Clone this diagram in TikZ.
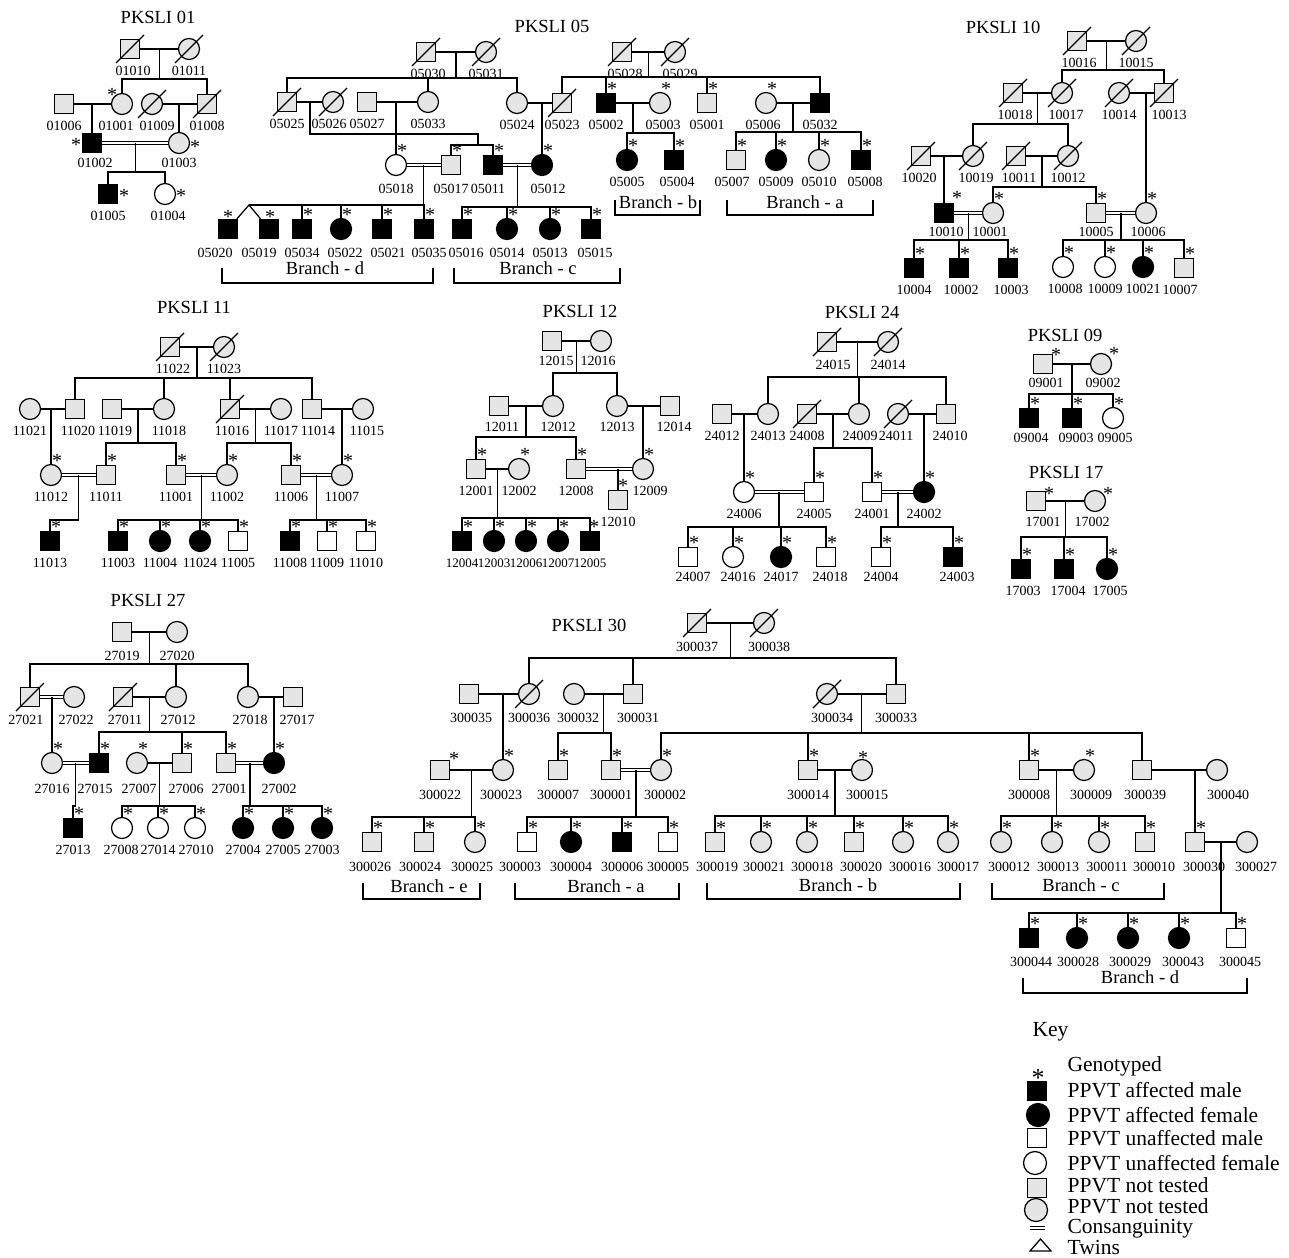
\documentclass[tikz,border=0pt]{standalone}
\usepackage{fontspec}
\setmainfont{Liberation Serif}
\usepackage{tikz}
\usetikzlibrary{calc}
\definecolor{nt}{gray}{0.9}
\newcommand\pn[4][]{\node[#2] (p#3) at (#4) {};
  \node[lb,#1] (t#3) at ([yshift=-22pt]p#3.center) {#3};}
\newcommand\gtp[2][6,-14]{\node[ast] (s#2) at ([shift={(#1)}]p#2.center) {*};}
\newcommand\gts[1]{\foreach \q in {#1} {\gtp{\q}}}
\newcommand\mate[2]{\draw (p#1) -- (p#2);}
\newcommand\cmate[2]{\draw[cs] (p#1) -- (p#2);}
\newcommand\kids[4]{\path ($(p#1)!.5!(p#2)$) coordinate (j) ++(0,#3) coordinate (k);
  \draw (j) -- (k);
  \foreach \ch in {#4} {\draw (k) -| (p\ch);}}
\newcommand\dead[1]{\foreach \q in {#1} {\draw ([shift={(-14,14)}]p\q.center) -- ([shift={(14,-14)}]p\q.center);}}
\newcommand\brk[4]{\draw (#1,#3) -- (#1,#4) -- (#2,#4) -- (#2,#3);}
\begin{document}
\begin{tikzpicture}[x=1pt,y=-1pt,line width=1.25pt,
  sym/.style={draw,inner sep=0pt},
  sq/.style={sym,rectangle,minimum size=19pt,fill=nt},
  ci/.style={sym,circle,minimum size=21pt,fill=nt},
  am/.style={sq,fill=black},
  af/.style={ci,fill=black},
  um/.style={sq,fill=white},
  uf/.style={ci,fill=white},
  cs/.style={double,double distance=1.6pt},
  lb/.style={font=\fontsize{14}{15}\selectfont,inner sep=0pt},
  ast/.style={font=\fontsize{20}{20}\selectfont,inner sep=0pt},
  ttl/.style={font=\fontsize{18.5}{20}\selectfont,inner sep=0pt},
  kt/.style={font=\fontsize{21.5}{22}\selectfont,inner sep=0pt,anchor=base west}]
\useasboundingbox (0,0) rectangle (1289,1257);

\node[ttl] (h01) at (158,17) {PKSLI 01};
\pn[xshift=3]{sq}{01010}{130,49}
\pn{ci}{01011}{189,49}
\pn{sq}{01006}{64,104}
\pn[xshift=-6]{ci}{01001}{122,104}
\pn[xshift=5]{ci}{01009}{152,104}
\pn{sq}{01008}{207,104}
\pn[xshift=3,yshift=2]{am}{01002}{92,143}
\pn[yshift=2]{ci}{01003}{179,143}
\pn{am}{01005}{108,194}
\pn[xshift=3]{uf}{01004}{165,194}
\mate{01010}{01011} \kids{01010}{01011}{30}{01001,01008}
\mate{01006}{01001} \kids{01006}{01001}{0}{01002}
\mate{01009}{01008} \kids{01009}{01008}{0}{01003}
\cmate{01002}{01003} \kids{01002}{01003}{29}{01005,01004}
\dead{01010,01011,01009,01008}
\gtp[-10,-9]{01001} \gtp[-16,2]{01002} \gtp[16,4]{01003} \gtp[16,2]{01005} \gtp[16,2]{01004}

\node[ttl] (h05) at (552,26) {PKSLI 05};
\pn[xshift=2]{sq}{05030}{426,52}
\pn{ci}{05031}{486,52}
\pn{sq}{05025}{287,102}
\pn[xshift=-4]{ci}{05026}{333,102}
\pn{sq}{05027}{367,102}
\pn{ci}{05033}{428,102}
\pn{ci}{05024}{517,103}
\pn{sq}{05023}{562,103}
\pn[yshift=-2]{uf}{05018}{396,165}
\pn[yshift=-2]{sq}{05017}{451,165}
\pn[xshift=-5,yshift=-2]{am}{05011}{493,165}
\pn[xshift=6,yshift=-2]{af}{05012}{542,165}
\pn[xshift=-13,yshift=-2]{am}{05020}{228,229}
\pn[xshift=-10,yshift=-2]{am}{05019}{269,229}
\pn[yshift=-2]{am}{05034}{302,229}
\pn[xshift=4,yshift=-2]{af}{05022}{341,229}
\pn[xshift=6,yshift=-2]{am}{05021}{382,229}
\pn[xshift=5,yshift=-2]{am}{05035}{424,229}
\pn[xshift=4,yshift=-2]{am}{05016}{462,229}
\pn[yshift=-2]{af}{05014}{507,229}
\pn[yshift=-2]{af}{05013}{550,229}
\pn[xshift=4,yshift=-2]{am}{05015}{591,229}
\pn[xshift=3]{sq}{05028}{622,52}
\pn[xshift=5]{ci}{05029}{675,52}
\pn{am}{05002}{606,103}
\pn[xshift=3]{ci}{05003}{660,103}
\pn{sq}{05001}{707,103}
\pn[xshift=-3]{ci}{05006}{766,103}
\pn{am}{05032}{820,103}
\pn{af}{05005}{627,160}
\pn[xshift=3]{am}{05004}{674,160}
\pn[xshift=-4]{sq}{05007}{736,160}
\pn{af}{05009}{776,160}
\pn{ci}{05010}{819,160}
\pn[xshift=4]{am}{05008}{861,160}
\mate{05030}{05031} \kids{05030}{05031}{26}{05025,05033,05024}
\mate{05025}{05026}
\path ($(p05025)!.5!(p05026)$) coordinate (j);
\coordinate (e1) at (478,134);
\coordinate (e2) at (478,145);
\draw (j) |- (e1) -- (e2);
\foreach \ch in {05017,05011} {\draw (e2) -| (p\ch);}
\mate{05027}{05033} \kids{05027}{05033}{0}{05018}
\mate{05024}{05023} \kids{05024}{05023}{0}{05012}
\cmate{05018}{05017} \kids{05018}{05017}{40}{05034,05022,05021,05035}
\coordinate (tw) at (249,205);
\draw (tw) -- (k);
\draw (p05020) -- (tw) -- (p05019);
\cmate{05011}{05012} \kids{05011}{05012}{42}{05016,05014,05013,05015}
\mate{05028}{05029} \kids{05028}{05029}{25}{05023,05002,05001,05032}
\mate{05002}{05003} \kids{05002}{05003}{30}{05005,05004}
\mate{05006}{05032} \kids{05006}{05032}{29}{05007,05009,05010,05008}
\dead{05030,05031,05025,05026,05023,05028,05029}
\gts{05018,05017,05011,05012,05034,05022,05021,05035,05016,05014,05013,05015,05002,05003,05001,05006,05005,05004,05007,05009,05010,05008}
\gtp[0,-12]{05020} \gtp[1,-12]{05019}
\brk{222}{433}{268}{283} \node[ttl] (bd05) at (325,268) {Branch - d};
\brk{454}{620}{268}{283} \node[ttl] (bc05) at (538,268) {Branch - c};
\brk{615}{700}{200}{215} \node[ttl] (bb05) at (658,202) {Branch - b};
\brk{727}{873}{200}{215} \node[ttl] (ba05) at (805,202) {Branch - a};

\node[ttl] (h10) at (1003,27) {PKSLI 10};
\pn[xshift=2]{sq}{10016}{1077,41}
\pn{ci}{10015}{1136,41}
\pn[xshift=2]{sq}{10018}{1013,93}
\pn[xshift=4]{ci}{10017}{1062,93}
\pn{ci}{10014}{1119,93}
\pn[xshift=5]{sq}{10013}{1164,93}
\pn[xshift=-2]{sq}{10020}{921,156}
\pn[xshift=3]{ci}{10019}{973,156}
\pn[xshift=3]{sq}{10011}{1016,156}
\pn{ci}{10012}{1068,156}
\pn[xshift=2,yshift=3]{am}{10010}{944,213}
\pn[xshift=-3,yshift=3]{ci}{10001}{993,213}
\pn[yshift=3]{sq}{10005}{1096,213}
\pn[xshift=2,yshift=3]{ci}{10006}{1146,213}
\pn{am}{10004}{914,268}
\pn[xshift=2]{am}{10002}{959,268}
\pn[xshift=3]{am}{10003}{1008,268}
\pn[xshift=2]{uf}{10008}{1063,267}
\pn{uf}{10009}{1105,267}
\pn{af}{10021}{1143,267}
\pn[xshift=-4]{sq}{10007}{1184,268}
\mate{10016}{10015} \kids{10016}{10015}{29}{10017,10013}
\mate{10018}{10017} \kids{10018}{10017}{31}{10019,10012}
\mate{10014}{10013} \kids{10014}{10013}{0}{10006}
\mate{10020}{10019} \kids{10020}{10019}{0}{10010}
\mate{10011}{10012} \kids{10011}{10012}{31}{10001,10005}
\cmate{10010}{10001} \kids{10010}{10001}{27}{10004,10002,10003}
\cmate{10005}{10006} \kids{10005}{10006}{27}{10008,10009,10021,10007}
\dead{10016,10015,10018,10017,10014,10013,10020,10019,10011,10012}
\gtp[13,-15]{10010}
\gts{10001,10005,10006,10004,10002,10003,10008,10009,10021,10007}

\node[ttl] (h11) at (194,307) {PKSLI 11};
\pn[xshift=3]{sq}{11022}{170,347}
\pn{ci}{11023}{224,347}
\pn{ci}{11021}{30,409}
\pn[xshift=3]{sq}{11020}{75,409}
\pn[xshift=3]{sq}{11019}{112,409}
\pn[xshift=5]{ci}{11018}{164,409}
\pn[xshift=2]{sq}{11016}{230,409}
\pn{ci}{11017}{281,409}
\pn[xshift=6]{sq}{11014}{312,409}
\pn[xshift=4]{ci}{11015}{363,409}
\pn{ci}{11012}{51,475}
\pn{sq}{11011}{106,475}
\pn{sq}{11001}{176,475}
\pn{ci}{11002}{227,475}
\pn{sq}{11006}{291,475}
\pn{ci}{11007}{342,475}
\pn{am}{11013}{50,541}
\pn{am}{11003}{118,541}
\pn{af}{11004}{160,541}
\pn{af}{11024}{200,541}
\pn{um}{11005}{238,541}
\pn{am}{11008}{290,541}
\pn{um}{11009}{327,541}
\pn{um}{11010}{366,541}
\mate{11022}{11023} \kids{11022}{11023}{31}{11020,11018,11016,11014}
\mate{11021}{11020} \kids{11021}{11020}{0}{11012}
\mate{11019}{11018} \kids{11019}{11018}{34}{11011,11001}
\mate{11016}{11017} \kids{11016}{11017}{34}{11002,11006}
\mate{11014}{11015} \kids{11014}{11015}{0}{11007}
\cmate{11012}{11011} \kids{11012}{11011}{45}{11013}
\cmate{11001}{11002} \kids{11001}{11002}{45}{11003,11004,11024,11005}
\cmate{11006}{11007} \kids{11006}{11007}{45}{11008,11009,11010}
\dead{11022,11023,11016}
\gts{11012,11011,11001,11002,11006,11007,11013,11003,11004,11024,11005,11008,11009,11010}

\node[ttl] (h12) at (580,311) {PKSLI 12};
\pn[xshift=4,yshift=2]{sq}{12015}{552,341}
\pn[xshift=-3,yshift=2]{ci}{12016}{601,341}
\pn[xshift=3,yshift=1]{sq}{12011}{499,406}
\pn[xshift=5,yshift=1]{ci}{12012}{553,406}
\pn[yshift=1]{ci}{12013}{617,406}
\pn[xshift=4,yshift=1]{sq}{12014}{670,406}
\pn{sq}{12001}{476,469}
\pn{ci}{12002}{519,469}
\pn{sq}{12008}{576,469}
\pn[xshift=7]{ci}{12009}{643,469}
\pn[font=\fontsize{13}{14}\selectfont]{am}{12004}{462,541}
\pn[font=\fontsize{13}{14}\selectfont]{af}{12003}{494,541}
\pn[font=\fontsize{13}{14}\selectfont]{af}{12006}{526,541}
\pn[font=\fontsize{13}{14}\selectfont]{af}{12007}{558,541}
\pn[font=\fontsize{13}{14}\selectfont]{am}{12005}{590,541}
\pn{sq}{12010}{618,500}
\mate{12015}{12016} \kids{12015}{12016}{32}{12012,12013}
\mate{12011}{12012} \kids{12011}{12012}{31}{12001,12008}
\mate{12013}{12014} \kids{12013}{12014}{0}{12009}
\mate{12001}{12002} \kids{12001}{12002}{49}{12004,12003,12006,12007,12005}
\cmate{12008}{12009}
\draw (p12010 |- p12008) -- (p12010);
\gts{12001,12002,12008,12009,12004,12003,12006,12007}
\gtp[4,-14]{12005} \gtp[5,-14]{12010}

\node[ttl] (h24) at (862,312) {PKSLI 24};
\pn[xshift=6,yshift=-1]{sq}{24015}{827,342}
\pn[yshift=-1]{ci}{24014}{888,342}
\pn{sq}{24012}{722,414}
\pn{ci}{24013}{768,414}
\pn{sq}{24008}{807,414}
\pn[xshift=1]{ci}{24009}{859,414}
\pn[xshift=-2]{ci}{24011}{898,414}
\pn[xshift=4]{sq}{24010}{946,414}
\pn{uf}{24006}{744,492}
\pn{um}{24005}{814,492}
\pn{um}{24001}{872,492}
\pn{af}{24002}{924,492}
\pn[xshift=5,yshift=2]{um}{24007}{688,557}
\pn[xshift=5,yshift=2]{uf}{24016}{733,557}
\pn[yshift=2]{af}{24017}{781,557}
\pn[xshift=4,yshift=2]{um}{24018}{826,557}
\pn[yshift=2]{um}{24004}{881,557}
\pn[xshift=4,yshift=2]{am}{24003}{953,557}
\mate{24015}{24014} \kids{24015}{24014}{35}{24013,24009,24010}
\mate{24012}{24013} \kids{24012}{24013}{0}{24006}
\mate{24008}{24009} \kids{24008}{24009}{34}{24005,24001}
\mate{24011}{24010} \kids{24011}{24010}{0}{24002}
\cmate{24006}{24005} \kids{24006}{24005}{35}{24007,24016,24017,24018}
\cmate{24001}{24002} \kids{24001}{24002}{35}{24004,24003}
\dead{24015,24014,24008,24011}
\gts{24006,24005,24001,24002,24007,24016,24017,24018,24004,24003}

\node[ttl] (h09) at (1065,335) {PKSLI 09};
\pn[xshift=3,yshift=3]{sq}{09001}{1043,364}
\pn[xshift=2,yshift=3]{ci}{09002}{1101,364}
\pn[xshift=2,yshift=2]{am}{09004}{1029,418}
\pn[xshift=4,yshift=2]{am}{09003}{1072,418}
\pn[xshift=2,yshift=2]{uf}{09005}{1113,418}
\mate{09001}{09002} \kids{09001}{09002}{30}{09004,09003,09005}
\gtp[13,-9]{09001} \gtp[13,-10]{09002}
\gts{09004,09003,09005}

\node[ttl] (h17) at (1066,472) {PKSLI 17};
\pn[xshift=7,yshift=1]{sq}{17001}{1036,501}
\pn[xshift=-3,yshift=1]{ci}{17002}{1095,501}
\pn[xshift=2]{am}{17003}{1021,569}
\pn[xshift=4]{am}{17004}{1064,569}
\pn[xshift=3]{af}{17005}{1107,569}
\mate{17001}{17002} \kids{17001}{17002}{36}{17003,17004,17005}
\gtp[13,-7]{17001} \gtp[13,-7]{17002}
\gts{17003,17004,17005}

\node[ttl] (h27) at (148,600) {PKSLI 27};
\pn[yshift=-2]{sq}{27019}{122,632}
\pn[yshift=-2]{ci}{27020}{177,632}
\pn[xshift=-4,yshift=-1]{sq}{27021}{30,697}
\pn[xshift=2,yshift=-1]{ci}{27022}{74,697}
\pn[xshift=2,yshift=-1]{sq}{27011}{123,697}
\pn[xshift=2,yshift=-1]{ci}{27012}{176,697}
\pn[xshift=2,yshift=-1]{ci}{27018}{248,697}
\pn[xshift=4,yshift=-1]{sq}{27017}{293,697}
\pn[yshift=-4]{ci}{27016}{52,763}
\pn[xshift=-4,yshift=-4]{am}{27015}{99,763}
\pn[xshift=2,yshift=-4]{ci}{27007}{137,763}
\pn[xshift=4,yshift=-4]{sq}{27006}{182,763}
\pn[xshift=3,yshift=-4]{sq}{27001}{226,763}
\pn[xshift=5,yshift=-4]{af}{27002}{274,763}
\pn{am}{27013}{73,828}
\pn[xshift=-1]{uf}{27008}{122,828}
\pn{uf}{27014}{158,828}
\pn[xshift=1]{uf}{27010}{195,828}
\pn{af}{27004}{243,828}
\pn{af}{27005}{283,828}
\pn{af}{27003}{322,828}
\mate{27019}{27020} \kids{27019}{27020}{32}{27021,27012,27018}
\cmate{27021}{27022} \kids{27021}{27022}{0}{27016}
\mate{27011}{27012} \kids{27011}{27012}{35}{27015,27006,27001}
\mate{27018}{27017} \kids{27018}{27017}{0}{27002}
\cmate{27016}{27015} \kids{27016}{27015}{43}{27013}
\mate{27007}{27006} \kids{27007}{27006}{43}{27008,27014,27010}
\cmate{27001}{27002} \kids{27001}{27002}{43}{27004,27005,27003}
\dead{27021,27011}
\gts{27016,27015,27007,27006,27001,27002,27013,27008,27014,27010,27004,27005,27003}

\node[ttl] (h30) at (589,625) {PKSLI 30};
\pn[yshift=-2]{sq}{300037}{697,623}
\pn[xshift=5,yshift=-2]{ci}{300038}{764,623}
\pn[xshift=2,yshift=-2]{sq}{300035}{469,694}
\pn[yshift=-2]{ci}{300036}{529,694}
\pn[xshift=4,yshift=-2]{ci}{300032}{574,694}
\pn[xshift=5,yshift=-2]{sq}{300031}{633,694}
\pn[xshift=5,yshift=-2]{ci}{300034}{827,694}
\pn[yshift=-2]{sq}{300033}{896,694}
\pn[yshift=-3]{sq}{300022}{440,770}
\pn[xshift=-2,yshift=-3]{ci}{300023}{503,770}
\pn[yshift=-3]{sq}{300007}{558,770}
\pn[yshift=-3]{sq}{300001}{611,770}
\pn[xshift=4,yshift=-3]{ci}{300002}{661,770}
\pn[yshift=-3]{sq}{300014}{808,770}
\pn[xshift=5,yshift=-3]{ci}{300015}{862,770}
\pn[yshift=-3]{sq}{300008}{1029,770}
\pn[xshift=7,yshift=-3]{ci}{300009}{1084,770}
\pn[xshift=3,yshift=-3]{sq}{300039}{1142,770}
\pn[xshift=11,yshift=-3]{ci}{300040}{1217,770}
\pn[xshift=-2,yshift=-3]{sq}{300026}{372,842}
\pn[xshift=-4,yshift=-3]{sq}{300024}{424,842}
\pn[xshift=-3,yshift=-3]{ci}{300025}{475,842}
\pn[xshift=-7,yshift=-3]{um}{300003}{527,842}
\pn[yshift=-3]{af}{300004}{571,842}
\pn[yshift=-3]{am}{300006}{622,842}
\pn[yshift=-3]{um}{300005}{668,842}
\pn[xshift=2,yshift=-3]{sq}{300019}{715,842}
\pn[xshift=3,yshift=-3]{ci}{300021}{761,842}
\pn[xshift=5,yshift=-3]{ci}{300018}{807,842}
\pn[xshift=7,yshift=-3]{sq}{300020}{854,842}
\pn[xshift=7,yshift=-3]{ci}{300016}{903,842}
\pn[xshift=10,yshift=-3]{ci}{300017}{948,842}
\pn[xshift=8,yshift=-3]{ci}{300012}{1001,842}
\pn[xshift=6,yshift=-3]{ci}{300013}{1052,842}
\pn[xshift=8,yshift=-3]{ci}{300011}{1099,842}
\pn[xshift=9,yshift=-3]{sq}{300010}{1145,842}
\pn[xshift=9,yshift=-3]{sq}{300030}{1195,842}
\pn[xshift=9,yshift=-3]{ci}{300027}{1247,842}
\pn[xshift=2,yshift=-2]{am}{300044}{1029,938}
\pn[xshift=1,yshift=-2]{af}{300028}{1077,938}
\pn[xshift=2,yshift=-2]{af}{300029}{1128,938}
\pn[xshift=4,yshift=-2]{af}{300043}{1179,938}
\pn[xshift=4,yshift=-2]{um}{300045}{1236,938}
\mate{300037}{300038} \kids{300037}{300038}{35}{300036,300031,300033}
\mate{300035}{300036} \kids{300035}{300036}{0}{300023}
\mate{300032}{300031} \kids{300032}{300031}{39}{300007,300001}
\mate{300034}{300033} \kids{300034}{300033}{39}{300002,300014,300008,300039}
\mate{300022}{300023} \kids{300022}{300023}{47}{300026,300024,300025}
\cmate{300001}{300002} \kids{300001}{300002}{47}{300003,300004,300006,300005}
\mate{300014}{300015} \kids{300014}{300015}{46}{300019,300021,300018,300020,300016,300017}
\mate{300008}{300009} \kids{300008}{300009}{46}{300012,300013,300011,300010}
\mate{300039}{300040} \kids{300039}{300040}{0}{300030}
\mate{300030}{300027} \kids{300030}{300027}{71}{300044,300028,300029,300043,300045}
\dead{300037,300038,300036,300034}
\gtp[14,-11]{300022} \gtp[1,-12]{300015}
\gts{300023,300007,300001,300002,300014,300008,300009,300026,300024,300025,300003,300004,300006,300005,300019,300021,300018,300020,300016,300017,300012,300013,300011,300010,300030,300044,300028,300029,300043,300045}
\brk{363}{480}{883}{899} \node[ttl] (be30) at (429,886) {Branch - e};
\brk{515}{679}{883}{899} \node[ttl] (ba30) at (606,886) {Branch - a};
\brk{707}{960}{883}{899} \node[ttl] (bb30) at (838,885) {Branch - b};
\brk{992}{1164}{883}{899} \node[ttl] (bc30) at (1081,885) {Branch - c};
\brk{1023}{1247}{978}{993} \node[ttl] (bd30) at (1140,977) {Branch - d};

\node[kt] (kkey) at (1032,1036) {Key};
\node[ast,font=\fontsize{26}{26}\selectfont] (k0) at (1038,1078) {*};
\node[am] (k1) at (1037,1091) {};
\node[af,minimum size=23pt] (k2) at (1038,1115) {};
\node[um] (k3) at (1037,1138) {};
\node[uf,minimum size=23pt] (k4) at (1035,1163) {};
\node[sq] (k5) at (1037,1188) {};
\node[ci,minimum size=23pt] (k6) at (1036,1210) {};
\draw[cs] (1030,1228) -- (1045,1228);
\draw (1030,1251) -- (1040.5,1239) -- (1051,1251) -- cycle;
\node[kt] (kt0) at (1067,1071) {Genotyped};
\node[kt] (kt1) at (1067,1097) {PPVT affected male};
\node[kt] (kt2) at (1067,1122) {PPVT affected female};
\node[kt] (kt3) at (1067,1145) {PPVT unaffected male};
\node[kt] (kt4) at (1067,1170) {PPVT unaffected female};
\node[kt] (kt5) at (1067,1192) {PPVT not tested};
\node[kt] (kt6) at (1067,1213) {PPVT not tested};
\node[kt] (kt7) at (1067,1233) {Consanguinity};
\node[kt] (kt8) at (1067,1254) {Twins};
\end{tikzpicture}
\end{document}
